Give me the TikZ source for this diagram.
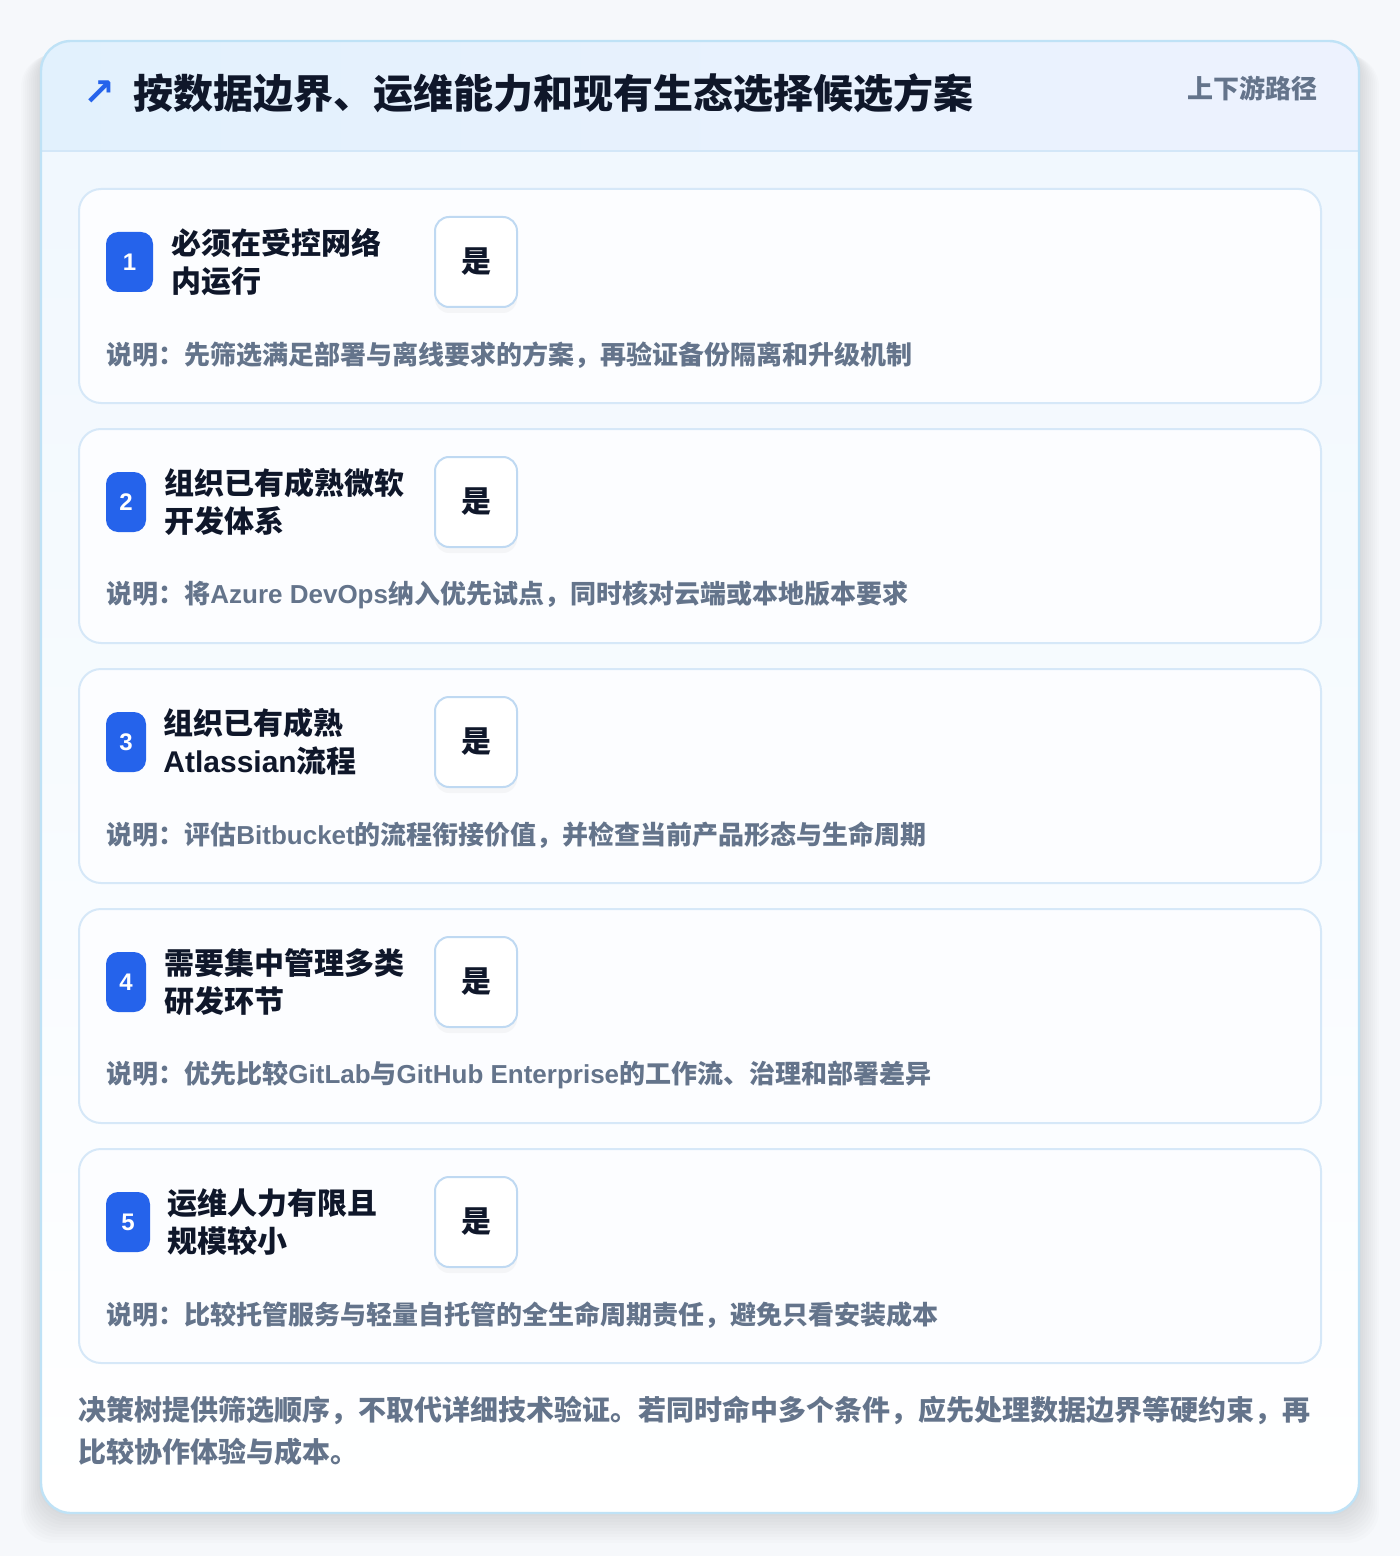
\documentclass[tikz,border=0pt]{standalone}
\usepackage{fontspec}
\setmainfont{Noto Sans CJK SC}
\newfontfamily\latin{Liberation Sans}
\newfontfamily\symb{DejaVu Sans}
\usetikzlibrary{positioning,shadows}
\definecolor{pagebg}{RGB}{246,248,251}
\definecolor{panelline}{RGB}{191,226,246}
\definecolor{headleft}{RGB}{226,241,253}
\definecolor{headright}{RGB}{237,242,254}
\definecolor{headline}{RGB}{211,231,248}
\definecolor{bodytop}{RGB}{241,248,254}
\definecolor{cardline}{RGB}{214,232,248}
\definecolor{cardfill}{RGB}{252,253,255}
\definecolor{badgeblue}{RGB}{37,99,235}
\definecolor{inkdark}{RGB}{15,23,42}
\definecolor{inkgray}{RGB}{100,116,139}
\definecolor{yesline}{RGB}{191,217,242}
\tikzstyle{card} = [draw=cardline, line width=1pt, fill=cardfill, rounded corners=11pt]
\tikzstyle{badge} = [fill=badgeblue, text=white, rounded corners=6pt, minimum height=30pt, inner sep=0pt, font=\latin\bfseries\fontsize{12}{14}\selectfont]
\tikzstyle{cond} = [anchor=west, inner sep=0pt, align=left, text=inkdark, font=\bfseries\fontsize{15}{19}\selectfont]
\tikzstyle{yesbox} = [draw=yesline, line width=1pt, fill=white, rounded corners=7pt, minimum width=41pt, minimum height=45pt, inner sep=0pt, text=inkdark, font=\bfseries\fontsize{15}{18}\selectfont, drop shadow={opacity=0.06, shadow xshift=0pt, shadow yshift=-3pt}]
\tikzstyle{note} = [anchor=west, inner sep=0pt, text=inkgray, font=\bfseries\fontsize{13}{16}\selectfont]
\begin{document}
\begin{tikzpicture}[x=0.5pt, y=-0.5pt]
    \useasboundingbox (0,0) rectangle (1400,1556);
    \fill[pagebg] (0,0) rectangle (1400,1556);

    % soft shadow under the panel
    \foreach \k in {1,...,10}
        \fill[black, opacity=0.012, rounded corners=16pt] (41-2*\k,45+\k) rectangle (1359+2*\k,1513+3*\k);

    \begin{scope}
        \clip[rounded corners=15pt] (41,41) rectangle (1359,1513);
        \fill[top color=bodytop, bottom color=white] (41,151) rectangle (1359,1513);
        \fill[left color=headleft, right color=headright] (41,41) rectangle (1359,151);
        \draw[headline, line width=1pt] (41,151) -- (1359,151);
    \end{scope}
    \draw[panelline, line width=1.2pt, rounded corners=15pt] (41,41) rectangle (1359,1513);

    \node[text=badgeblue, font=\symb\bfseries\fontsize{19}{20}\selectfont] (arrow) at (99,93) {↗};
    \node[anchor=west, inner sep=0pt, text=inkdark, font=\bfseries\fontsize{20}{24}\selectfont] (title) at (133,93)
        {按数据边界、运维能力和现有生态选择候选方案};
    \node[anchor=east, inner sep=0pt, text=inkgray, font=\bfseries\fontsize{13}{16}\selectfont] (route) at (1318,88)
        {上下游路径};

    \foreach \n/\bw/\tx/\ta/\tb/\desc in {
        1/47/171/{必须在受控网络}/{内运行}/{说明：先筛选满足部署与离线要求的方案，再验证备份隔离和升级机制},
        2/40/164/{组织已有成熟微软}/{开发体系}/{说明：将{\latin Azure DevOps}纳入优先试点，同时核对云端或本地版本要求},
        3/40/163/{组织已有成熟}/{{\latin Atlassian}流程}/{说明：评估{\latin Bitbucket}的流程衔接价值，并检查当前产品形态与生命周期},
        4/40/164/{需要集中管理多类}/{研发环节}/{说明：优先比较{\latin GitLab}与{\latin GitHub Enterprise}的工作流、治理和部署差异},
        5/44/167/{运维人力有限且}/{规模较小}/{说明：比较托管服务与轻量自托管的全生命周期责任，避免只看安装成本}}
    {
        \pgfmathsetmacro{\y}{189+(\n-1)*240}
        \draw[card] (79,\y) rectangle (1321,\y+214);
        \node[badge, minimum width=\bw*0.5pt] (badge\n) at (106+\bw/2,\y+73) {\n};
        \node[cond] (cond\n) at (\tx,\y+73) {\ta\\\tb};
        \node[yesbox] (yes\n) at (476,\y+73) {是};
        \node[note] (note\n) at (106,\y+166) {\desc};
    }

    \node[anchor=west, inner sep=0pt, align=left, text=inkgray, font=\bfseries\fontsize{14}{21}\selectfont] (footer) at (78,1431)
        {决策树提供筛选顺序，不取代详细技术验证。若同时命中多个条件，应先处理数据边界等硬约束，再\\比较协作体验与成本。};
\end{tikzpicture}
\end{document}
